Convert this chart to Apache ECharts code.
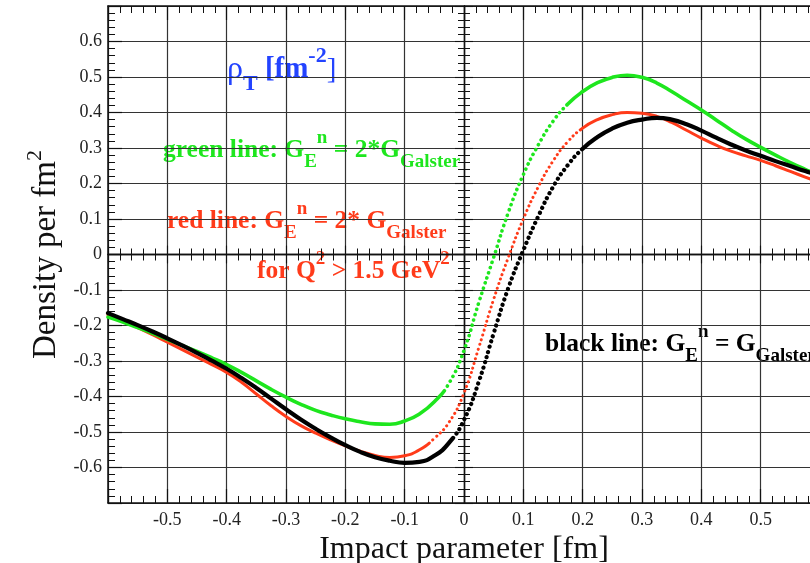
<!DOCTYPE html>
<html>
<head>
<meta charset="utf-8">
<title>rho_T</title>
<script src="https://cdn.jsdelivr.net/npm/echarts@6/dist/echarts.min.js"></script>
<style>
  html, body { margin: 0; padding: 0; background: #fff; }
  #main { width: 810px; height: 563px; }
</style>
</head>
<body>
<div id="main"></div>
<script>
// impact parameter b [fm]
var xs = [-0.6, -0.575, -0.55, -0.525, -0.5, -0.475, -0.45, -0.425, -0.4, -0.375,
  -0.35, -0.325, -0.3, -0.275, -0.25, -0.225, -0.2, -0.175, -0.15, -0.125,
  -0.1, -0.075, -0.05, -0.025, 0, 0.025, 0.05, 0.075, 0.1, 0.125,
  0.15, 0.175, 0.2, 0.225, 0.25, 0.275, 0.3, 0.325, 0.35, 0.375,
  0.4, 0.425, 0.45, 0.475, 0.5, 0.525, 0.55, 0.575, 0.6];

// G_E^n = G_Galster
var blackY = [-0.165, -0.182, -0.199, -0.217, -0.236, -0.256, -0.277, -0.299, -0.322, -0.348,
  -0.376, -0.406, -0.436, -0.465, -0.491, -0.515, -0.537, -0.556, -0.571, -0.581,
  -0.587, -0.584, -0.567, -0.53, -0.466, -0.358, -0.222, -0.093, 0.012, 0.107,
  0.19, 0.252, 0.298, 0.331, 0.355, 0.371, 0.38, 0.385, 0.38, 0.367,
  0.349, 0.329, 0.31, 0.293, 0.278, 0.263, 0.249, 0.235, 0.222];

// G_E^n = 2*G_Galster
var greenY = [-0.176, -0.19, -0.206, -0.222, -0.239, -0.256, -0.273, -0.291, -0.31, -0.332,
  -0.356, -0.38, -0.402, -0.422, -0.439, -0.452, -0.463, -0.471, -0.477, -0.478,
  -0.469, -0.449, -0.415, -0.362, -0.27, -0.135, -0.008, 0.12, 0.225, 0.308,
  0.375, 0.424, 0.459, 0.484, 0.499, 0.505, 0.499, 0.483, 0.459, 0.433,
  0.407, 0.379, 0.351, 0.325, 0.302, 0.28, 0.259, 0.24, 0.222];

// G_E^n = 2*G_Galster for Q^2 > 1.5 GeV^2
var redY = [-0.17, -0.187, -0.206, -0.226, -0.247, -0.268, -0.289, -0.31, -0.332, -0.36,
  -0.393, -0.426, -0.456, -0.482, -0.503, -0.522, -0.539, -0.554, -0.566, -0.572,
  -0.567, -0.55, -0.518, -0.472, -0.39, -0.262, -0.126, -0.007, 0.1, 0.19,
  0.263, 0.318, 0.356, 0.38, 0.394, 0.4, 0.398, 0.389, 0.372, 0.35,
  0.328, 0.308, 0.291, 0.278, 0.265, 0.25, 0.234, 0.218, 0.202];

var FONT = '"Liberation Serif", "Times New Roman", serif';
var GREEN = '#1ee61e', RED = '#ff3b1a', BLUE = '#2343ff';

// stretch of each curve (in b) that the original shows as separate dots
var curves = [
  { ys: redY, color: RED, width: 3, from: -0.06, to: 0.195, gap: 4.8 },
  { ys: greenY, color: GREEN, width: 3.6, from: -0.035, to: 0.175, gap: 5.4 },
  { ys: blackY, color: '#000', width: 4.2, from: -0.02, to: 0.2, gap: 5.4 }
];

function pairs(ys) {
  return xs.map(function (x, i) { return [x, ys[i]]; });
}

function fmt(lim) {
  return function (v) {
    var r = Math.round(v * 10) / 10;
    if (Math.abs(r) > lim) return '';
    return r === 0 ? '0' : String(r);
  };
}

var tickCol = '#111';
function frameAxis(pos, extra) {
  return Object.assign({
    type: 'value', position: pos,
    axisLine: { onZero: false, lineStyle: { color: tickCol, width: 1.5 } },
    axisTick: { inside: true, length: 14, lineStyle: { color: tickCol, width: 1.2 } },
    minorTick: { show: true, splitNumber: 5, length: 7, lineStyle: { color: tickCol, width: 1 } },
    splitLine: { show: false },
    axisLabel: { show: false }
  }, extra);
}
function zeroAxis(pos, inside) {
  return {
    type: 'value', position: pos,
    axisLine: { onZero: true, onZeroAxisIndex: 0, lineStyle: { color: tickCol, width: 1.3 } },
    axisTick: { inside: inside, length: 9, lineStyle: { color: tickCol, width: 1.1 } },
    minorTick: { show: true, splitNumber: 5, length: 6, lineStyle: { color: tickCol, width: 1 } },
    splitLine: { show: false },
    axisLabel: { show: false }
  };
}

var xr = { min: -0.6, max: 0.6, interval: 0.1 };
var yr = { min: -0.7, max: 0.7, interval: 0.1 };
var grid = { show: true, lineStyle: { color: '#333', width: 1.2 } };
var lbl = { show: true, fontSize: 18, color: '#222', fontFamily: FONT };

function tok(size, weight, fill, lh, va) {
  return { font: weight + ' ' + size + 'px ' + FONT, fill: fill, color: fill, lineHeight: lh, verticalAlign: va };
}
function note(x, y, text, rich, fill) {
  return {
    type: 'text', x: x, y: y, silent: true,
    style: {
      text: text, rich: rich, fill: fill, font: 'bold 25px ' + FONT,
      align: 'left', verticalAlign: 'top', textAlign: 'left', textVerticalAlign: 'top'
    }
  };
}
function labelRich(c) {
  return { m: tok(25.5, 'bold', c, 43, 'middle'), sub: tok(19, 'bold', c, 19, 'bottom'), sup: tok(19, 'bold', c, 19, 'top') };
}

var chart = echarts.init(document.getElementById('main'), null, { renderer: 'canvas' });
chart.setOption({
  backgroundColor: '#fff',
  animation: false,
  grid: { left: 108, top: 6, width: 712, height: 497, containLabel: false, outerBoundsMode: 'none' },
  xAxis: [
    frameAxis('bottom', Object.assign({}, xr, {
      splitLine: grid,
      axisLabel: Object.assign({}, lbl, { margin: 8, formatter: fmt(0.55) }),
      name: 'Impact parameter [fm]', nameLocation: 'middle', nameGap: 26,
      nameTextStyle: { fontSize: 32, fontFamily: FONT, color: '#111' }
    })),
    frameAxis('top', xr),
    Object.assign(zeroAxis('bottom', true), xr),
    Object.assign(zeroAxis('bottom', false), xr)
  ],
  yAxis: [
    frameAxis('left', Object.assign({}, yr, {
      splitLine: grid,
      axisLabel: Object.assign({}, lbl, { margin: 6, formatter: fmt(0.65) }),
      name: '{m|Density per fm}{s|2}', nameLocation: 'middle', nameGap: 40, nameRotate: 90,
      nameTextStyle: {
        rich: {
          m: { fontSize: 33, fontFamily: FONT, color: '#111', lineHeight: 44, verticalAlign: 'middle' },
          s: { fontSize: 22, fontFamily: FONT, color: '#111', lineHeight: 22, verticalAlign: 'top' }
        }
      }
    })),
    Object.assign(zeroAxis('left', true), yr),
    Object.assign(zeroAxis('left', false), yr)
  ],
  graphic: [
    note(227, 45, '{r|\u03c1}{t|T}{m| [fm}{s|-2}{e|]}', {
      r: tok(32, 'normal', BLUE, 50, 'middle'),
      t: tok(22, 'bold', BLUE, 22, 'bottom'),
      m: tok(29, 'bold', BLUE, 50, 'middle'),
      s: tok(22, 'bold', BLUE, 22, 'top'),
      e: tok(29, 'normal', BLUE, 50, 'middle')
    }, BLUE),
    note(163, 129, '{m|green line: G}{sub|E}{sup|n}{m| = 2*G}{sub|Galster}', labelRich(GREEN), GREEN),
    note(167, 200, '{m|red line: G}{sub|E}{sup|n}{m| = 2* G}{sub|Galster}', labelRich(RED), RED),
    note(257, 250, '{m|for Q}{sup|2}{m| > 1.5 GeV}{sup|2}', labelRich(RED), RED),
    note(545, 323, '{m|black line: G}{sub|E}{sup|n}{m| = G}{sub|Galster}', labelRich('#000'), '#000')
  ],
  series: curves.map(function (c) {
    return {
      type: 'line', smooth: 0.5, showSymbol: false, silent: true, animation: false,
      data: pairs(c.ys), lineStyle: { color: c.color, width: c.width, cap: 'round' }
    };
  })
});

// dash pattern along the path: solid, then round dots over the steep part, then solid
function dashFor(c) {
  var pts = xs.map(function (x, i) { return chart.convertToPixel({ gridIndex: 0 }, [x, c.ys[i]]); });
  var len = 0, la = 0, lb = 0;
  for (var i = 1; i < pts.length; i++) {
    var dx = pts[i][0] - pts[i - 1][0], dy = pts[i][1] - pts[i - 1][1];
    var seg = Math.sqrt(dx * dx + dy * dy) * 1.003;
    var x0 = xs[i - 1], x1 = xs[i];
    if (c.from > x0 && c.from <= x1) la = len + seg * (c.from - x0) / (x1 - x0);
    if (c.to > x0 && c.to <= x1) lb = len + seg * (c.to - x0) / (x1 - x0);
    len += seg;
  }
  var dot = 0.1, step = c.gap + dot;
  var n = Math.max(1, Math.round((lb - la) / step));
  var arr = [la, c.gap];
  for (var k = 0; k < n - 1; k++) arr.push(dot, c.gap);
  arr.push(len + 100, 0);
  return arr;
}
chart.setOption({
  series: curves.map(function (c) {
    return { lineStyle: { type: dashFor(c), cap: 'round' } };
  })
});
</script>
</body>
</html>
